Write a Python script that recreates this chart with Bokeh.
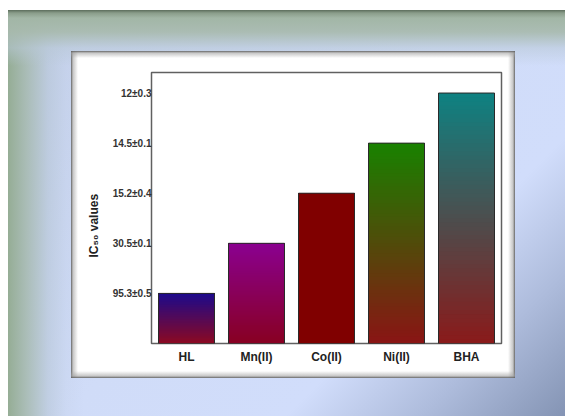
import numpy as np
from bokeh.plotting import figure
from bokeh.models import FactorRange, Range1d, FixedTicker, Title
from bokeh.embed import file_html
from bokeh.resources import INLINE

# ---- data ----
categories = ["HL", "Mn(II)", "Co(II)", "Ni(II)", "BHA"]
bar_levels = [1, 2, 3, 4, 5]
ic50_ticks = [1, 2, 3, 4, 5]
ic50_labels = ["95.3±0.5", "30.5±0.1", "15.2±0.4", "14.5±0.1", "12±0.3"]

# ---- style: gradient end colours per bar ----
top_colors = ["#1c0a8c", "#8a0090", "#800000", "#188200", "#0e8282"]
bottom_colors = ["#8c0a22", "#880022", "#800000", "#8a1414", "#8a1a1a"]


def hex2rgb(h):
    h = h.lstrip("#")
    return np.array([int(h[i:i + 2], 16) for i in (0, 2, 4)], dtype=float)


def rgb2hex(c):
    c = np.clip(np.round(c), 0, 255).astype(int)
    return "#%02x%02x%02x" % tuple(c)


N = 60
sx, sb, st, sc = [], [], [], []
for cat, lvl, cb, ct in zip(categories, bar_levels, bottom_colors, top_colors):
    a, b = hex2rgb(cb), hex2rgb(ct)
    for k in range(N):
        t = (k + 0.5) / N
        sx.append(cat)
        sb.append(lvl * k / N)
        st.append(lvl)          # each slice reaches the bar top; later slices overlay
        sc.append(rgb2hex(a + (b - a) * t))

p = figure(width=565, height=416,
           x_range=FactorRange(*categories), y_range=Range1d(0, 5.41),
           output_backend="svg", toolbar_location=None,
           min_border_left=151, min_border_right=64,
           min_border_top=72, min_border_bottom=73)

p.vbar(x=sx, bottom=sb, top=st, width=0.8, fill_color=sc, line_color=None)
p.vbar(x=categories, bottom=0, top=bar_levels, width=0.8,
       fill_color=None, line_color="#2a2a2a", line_width=1)

p.xgrid.visible = False
p.ygrid.visible = False
p.background_fill_color = "white"
p.border_fill_alpha = 0
p.outline_line_color = "#606060"
p.outline_line_width = 1.5

# y axis
p.yaxis.ticker = FixedTicker(ticks=ic50_ticks)
p.yaxis.major_label_overrides = {t: s for t, s in zip(ic50_ticks, ic50_labels)}
p.yaxis.axis_line_color = None
p.yaxis.major_tick_line_color = None
p.yaxis.minor_tick_line_color = None
p.yaxis.major_tick_out = 0
p.yaxis.major_tick_in = 0
p.yaxis.major_label_standoff = 0
p.yaxis.major_label_text_font = "Liberation Sans"
p.yaxis.major_label_text_font_style = "bold"
p.yaxis.major_label_text_font_size = "10px"
p.yaxis.major_label_text_color = "#333333"

# x axis
p.xaxis.axis_line_color = None
p.xaxis.major_tick_line_color = None
p.xaxis.minor_tick_line_color = None
p.xaxis.major_tick_out = 0
p.xaxis.major_tick_in = 0
p.xaxis.major_label_standoff = 6
p.xaxis.major_label_text_font = "Liberation Sans"
p.xaxis.major_label_text_font_style = "bold"
p.xaxis.major_label_text_font_size = "12px"
p.xaxis.major_label_text_color = "#222222"

# y axis title as a side title (allows shifting along the axis)
p.add_layout(Title(text="IC\u2085\u2080 values", align="left", offset=86,
                   standoff=17, text_font="Liberation Sans", text_font_style="bold",
                   text_font_size="12px", text_color="#222222"), "left")

# decorative frame behind the chart (CSS layers)
layers = [
    "linear-gradient(to bottom, rgba(95,95,95,0.95) 0px, rgba(160,160,160,0.6) 2px, rgba(255,255,255,0) 7px, rgba(255,255,255,0) calc(100% - 7px), rgba(160,160,160,0.6) calc(100% - 2px), rgba(95,95,95,0.95) 100%) 71px 51px / 444px 327px no-repeat",
    "linear-gradient(to right, rgba(95,95,95,0.95) 0px, rgba(160,160,160,0.6) 2px, rgba(255,255,255,0) 7px, rgba(255,255,255,0) calc(100% - 7px), rgba(160,160,160,0.6) calc(100% - 2px), rgba(95,95,95,0.95) 100%) 71px 51px / 444px 327px no-repeat",
    "linear-gradient(#ffffff, #ffffff) 71px 51px / 444px 327px no-repeat",
    "linear-gradient(to bottom, #5c6d5c 0px, #8a9d8a 3px, #a2b6a6 8px, rgba(168,186,174,0.92) 22px, rgba(184,200,214,0.55) 38px, rgba(200,212,235,0) 56px) 8px 10px / 557px 60px no-repeat",
    "linear-gradient(to right, #95ad95 0px, rgba(164,184,172,0.85) 18px, rgba(180,196,210,0.55) 40px, rgba(192,206,228,0.25) 58px, rgba(198,210,234,0) 76px) 8px 10px / 80px 406px no-repeat",
    "linear-gradient(135deg, #c4d0ea 0%, #d0dcf8 48%, #d1ddfb 71%, #aebcdc 85%, #8494b4 100%) 8px 10px / 557px 406px no-repeat",
    "#ffffff",
]
p.styles = {"background": ", ".join(layers)}

open("out.html", "w").write(file_html(p, INLINE))
